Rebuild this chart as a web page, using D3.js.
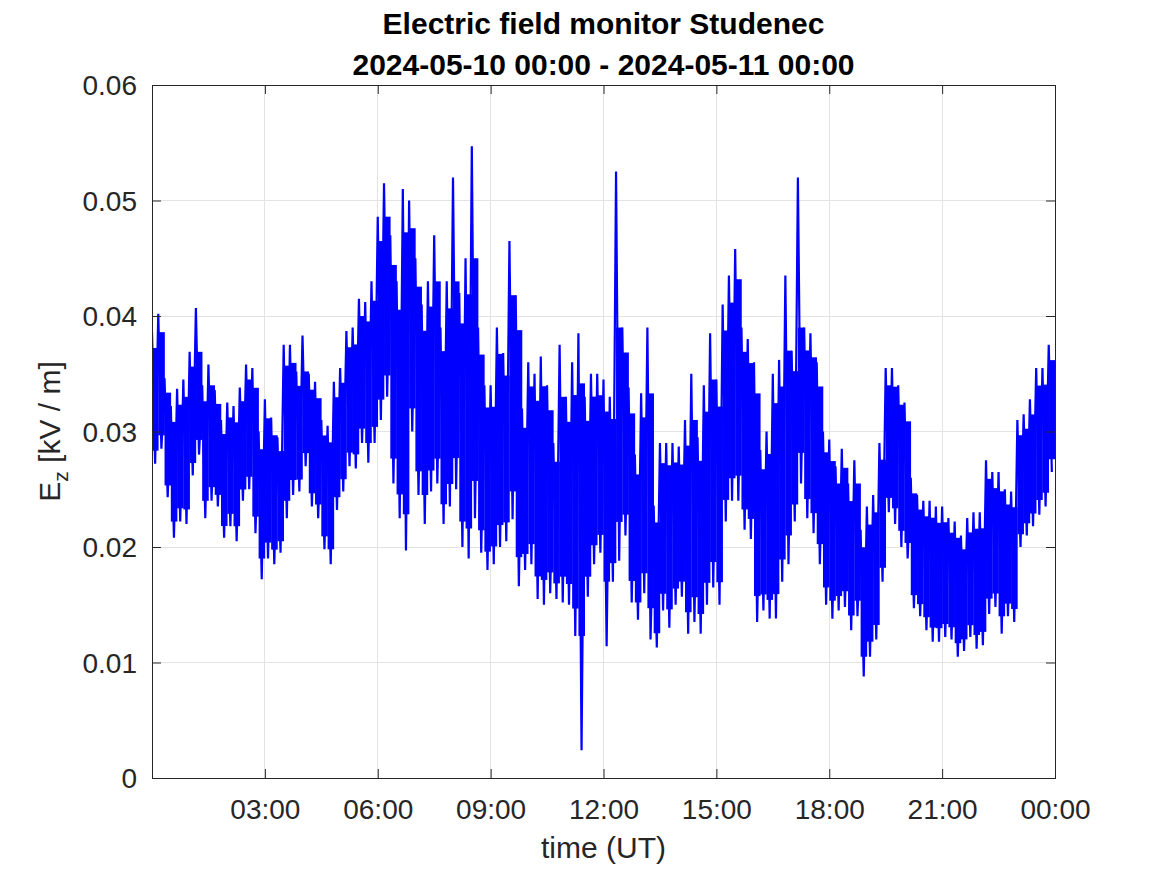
<!DOCTYPE html>
<html>
<head>
<meta charset="utf-8">
<script src="https://cdn.jsdelivr.net/npm/d3@7"></script>
<style>
  html, body { margin: 0; padding: 0; background: #ffffff; }
  svg { display: block; }
  text { font-family: "Liberation Sans", Arial, Helvetica, sans-serif; }
</style>
</head>
<body>
<svg id="chart" width="1167" height="875"></svg>
<script>
// ---- Data: 10-minute envelope (high / low) of Ez [kV/m] ----
const startTime = Date.UTC(2024, 4, 10, 0, 0);
const binMinutes = 10;

const highValues = [
  0.0386, 0.0402, 0.0346, 0.0322, 0.0337, 0.0345, 0.0369, 0.0407, 0.0340, 0.0358, 0.0336, 0.0310, 0.0325, 0.0322, 0.0338, 0.0358, 0.0355, 0.0300,
  0.0328, 0.0312, 0.0295, 0.0375, 0.0375, 0.0352, 0.0383, 0.0350, 0.0343, 0.0310, 0.0305, 0.0343, 0.0355, 0.0387, 0.0390, 0.0415, 0.0412, 0.0430,
  0.0486, 0.0515, 0.0470, 0.0430, 0.0510, 0.0500, 0.0450, 0.0410, 0.0430, 0.0470, 0.0390, 0.0430, 0.0520, 0.0420, 0.0450, 0.0547, 0.0390, 0.0340,
  0.0340, 0.0390, 0.0368, 0.0465, 0.0418, 0.0320, 0.0360, 0.0350, 0.0365, 0.0340, 0.0290, 0.0375, 0.0330, 0.0360, 0.0385, 0.0330, 0.0350, 0.0350,
  0.0345, 0.0330, 0.0525, 0.0390, 0.0338, 0.0280, 0.0333, 0.0390, 0.0236, 0.0290, 0.0290, 0.0290, 0.0287, 0.0310, 0.0350, 0.0295, 0.0340, 0.0385,
  0.0345, 0.0410, 0.0435, 0.0458, 0.0390, 0.0380, 0.0360, 0.0284, 0.0300, 0.0350, 0.0362, 0.0435, 0.0370, 0.0520, 0.0390, 0.0385, 0.0360, 0.0300,
  0.0293, 0.0270, 0.0285, 0.0255, 0.0275, 0.0215, 0.0235, 0.0245, 0.0290, 0.0355, 0.0355, 0.0340, 0.0325, 0.0260, 0.0245, 0.0240, 0.0240, 0.0235,
  0.0235, 0.0225, 0.0222, 0.0210, 0.0225, 0.0230, 0.0230, 0.0275, 0.0265, 0.0265, 0.0250, 0.0248, 0.0310, 0.0315, 0.0328, 0.0355, 0.0355, 0.0375
];

const lowValues = [
  0.0272, 0.0285, 0.0243, 0.0208, 0.0222, 0.0220, 0.0262, 0.0280, 0.0225, 0.0240, 0.0235, 0.0208, 0.0218, 0.0205, 0.0240, 0.0250, 0.0212, 0.0172,
  0.0190, 0.0185, 0.0195, 0.0225, 0.0245, 0.0248, 0.0270, 0.0235, 0.0225, 0.0198, 0.0185, 0.0232, 0.0248, 0.0270, 0.0268, 0.0290, 0.0273, 0.0290,
  0.0310, 0.0330, 0.0255, 0.0225, 0.0197, 0.0300, 0.0245, 0.0220, 0.0248, 0.0255, 0.0220, 0.0235, 0.0250, 0.0200, 0.0190, 0.0225, 0.0195, 0.0180,
  0.0185, 0.0200, 0.0205, 0.0224, 0.0166, 0.0180, 0.0185, 0.0155, 0.0150, 0.0160, 0.0155, 0.0152, 0.0150, 0.0123, 0.0024, 0.0157, 0.0185, 0.0195,
  0.0114, 0.0170, 0.0188, 0.0210, 0.0152, 0.0137, 0.0160, 0.0120, 0.0113, 0.0145, 0.0130, 0.0150, 0.0157, 0.0125, 0.0135, 0.0125, 0.0150, 0.0165,
  0.0150, 0.0222, 0.0240, 0.0240, 0.0215, 0.0207, 0.0135, 0.0145, 0.0138, 0.0138, 0.0170, 0.0185, 0.0222, 0.0255, 0.0225, 0.0212, 0.0185, 0.0150,
  0.0138, 0.0145, 0.0148, 0.0128, 0.0140, 0.0088, 0.0105, 0.0120, 0.0170, 0.0230, 0.0220, 0.0200, 0.0190, 0.0147, 0.0140, 0.0128, 0.0118, 0.0118,
  0.0122, 0.0120, 0.0105, 0.0110, 0.0122, 0.0112, 0.0115, 0.0142, 0.0148, 0.0125, 0.0140, 0.0135, 0.0200, 0.0210, 0.0218, 0.0228, 0.0235, 0.0265
];

const xTickHours = [3, 6, 9, 12, 15, 18, 21, 24];
const xTickLabels = ["03:00", "06:00", "09:00", "12:00", "15:00", "18:00", "21:00", "00:00"];
const yTickValues = [0, 0.01, 0.02, 0.03, 0.04, 0.05, 0.06];
const yTickLabels = ["0", "0.01", "0.02", "0.03", "0.04", "0.05", "0.06"];

const titleLines = ["Electric field monitor Studenec", "2024-05-10 00:00 - 2024-05-11 00:00"];
const xLabel = "time (UT)";

// ---- Layout ----
const plot = { left: 152, right: 1055, top: 85, bottom: 778 };
const axisColor = "#262626";
const gridColor = "#e3e3e3";

const svg = d3.select("#chart");
svg.append("rect").attr("width", 1167).attr("height", 875).attr("fill", "#ffffff");

const x = d3.scaleUtc()
  .domain([new Date(startTime), new Date(startTime + 24 * 3600 * 1000)])
  .range([plot.left, plot.right]);
const y = d3.scaleLinear().domain([0, 0.06]).range([plot.bottom, plot.top]);

const xTicks = xTickHours.map(h => new Date(startTime + h * 3600 * 1000));

// grid
const grid = svg.append("g");
grid.selectAll("line.gx").data(xTicks).join("line")
  .attr("x1", d => x(d)).attr("x2", d => x(d))
  .attr("y1", plot.top).attr("y2", plot.bottom)
  .attr("stroke", gridColor).attr("stroke-width", 1).attr("shape-rendering", "crispEdges");
grid.selectAll("line.gy").data(yTickValues).join("line")
  .attr("x1", plot.left).attr("x2", plot.right)
  .attr("y1", d => y(d)).attr("y2", d => y(d))
  .attr("stroke", gridColor).attr("stroke-width", 1).attr("shape-rendering", "crispEdges");

svg.append("defs").append("clipPath").attr("id", "clip")
  .append("rect").attr("x", plot.left).attr("y", plot.top)
  .attr("width", plot.right - plot.left).attr("height", plot.bottom - plot.top);

// bins
const bins = highValues.map((h, i) => ({
  t: new Date(startTime + i * binMinutes * 60000),
  hi: h, lo: lowValues[i]
}));

// solid core of each bin; isolated extremes are left to the thin zig-zag line
bins.forEach((b, i) => {
  const prev = bins[Math.max(0, i - 1)], next = bins[Math.min(bins.length - 1, i + 1)];
  const range = b.hi - b.lo;
  b.coreHi = Math.min(b.hi - range * 0.12, Math.max(prev.hi, next.hi));
  b.coreLo = Math.max(b.lo + range * 0.1, Math.min(prev.lo, next.lo));
  if (b.coreLo > b.coreHi) { const m = (b.coreLo + b.coreHi) / 2; b.coreLo = m; b.coreHi = m; }
});

const dataG = svg.append("g").attr("clip-path", "url(#clip)");

dataG.selectAll("rect.bin").data(bins).join("rect")
  .attr("x", d => x(d.t))
  .attr("width", d => x(new Date(+d.t + binMinutes * 60000)) - x(d.t) + 0.3)
  .attr("y", d => y(d.coreHi))
  .attr("height", d => y(d.coreLo) - y(d.coreHi))
  .attr("fill", "#0000ff");

// zig-zag line through each bin's high and low
const pts = [];
bins.forEach(b => {
  pts.push({ t: b.t, v: b.hi });
  pts.push({ t: new Date(+b.t + binMinutes * 30000), v: b.lo });
});
dataG.append("path")
  .datum(pts)
  .attr("fill", "none")
  .attr("stroke", "#0000ff")
  .attr("stroke-width", 2.2)
  .attr("stroke-linejoin", "miter")
  .attr("d", d3.line().x(d => x(d.t)).y(d => y(d.v)));

// axes
const tickLen = 9;
const xAxis = d3.axisBottom(x).tickValues(xTicks).tickSizeInner(-tickLen).tickSizeOuter(0)
  .tickPadding(30).tickFormat((d, i) => xTickLabels[i]);
const gx = svg.append("g").attr("transform", `translate(0,${plot.bottom})`).call(xAxis);
gx.select(".domain").remove();
gx.selectAll(".tick line").attr("stroke", axisColor);
gx.selectAll(".tick text").attr("fill", axisColor).attr("font-size", 28)
  .attr("dy", null).attr("y", 41);

const xAxisTop = d3.axisTop(x).tickValues(xTicks).tickSizeInner(-tickLen).tickSizeOuter(0).tickFormat("");
const gxt = svg.append("g").attr("transform", `translate(0,${plot.top})`).call(xAxisTop);
gxt.select(".domain").remove();
gxt.selectAll(".tick line").attr("stroke", axisColor);

const yAxis = d3.axisLeft(y).tickValues(yTickValues).tickSizeInner(-tickLen).tickSizeOuter(0)
  .tickPadding(15).tickFormat((d, i) => yTickLabels[i]);
const gy = svg.append("g").attr("transform", `translate(${plot.left},0)`).call(yAxis);
gy.select(".domain").remove();
gy.selectAll(".tick line").attr("stroke", axisColor);
gy.selectAll(".tick text").attr("fill", axisColor).attr("font-size", 28)
  .attr("x", -15).attr("dy", "0.35em");

const yAxisRight = d3.axisRight(y).tickValues(yTickValues).tickSizeInner(-tickLen).tickSizeOuter(0).tickFormat("");
const gyr = svg.append("g").attr("transform", `translate(${plot.right},0)`).call(yAxisRight);
gyr.select(".domain").remove();
gyr.selectAll(".tick line").attr("stroke", axisColor);

// box
svg.append("rect")
  .attr("x", plot.left + 0.5).attr("y", plot.top + 0.5)
  .attr("width", plot.right - plot.left).attr("height", plot.bottom - plot.top)
  .attr("fill", "none").attr("stroke", axisColor).attr("stroke-width", 1);

// title
const title = svg.append("text")
  .attr("text-anchor", "middle").attr("font-size", 30).attr("font-weight", "bold").attr("fill", "#000");
title.append("tspan").attr("x", (plot.left + plot.right) / 2).attr("y", 34).text(titleLines[0]);
title.append("tspan").attr("x", (plot.left + plot.right) / 2).attr("y", 75).text(titleLines[1]);

// x label
svg.append("text")
  .attr("x", (plot.left + plot.right) / 2).attr("y", 858)
  .attr("text-anchor", "middle").attr("font-size", 30).attr("fill", axisColor)
  .text(xLabel);

// y label
const yl = svg.append("text")
  .attr("transform", `translate(60, ${(plot.top + plot.bottom) / 2}) rotate(-90)`)
  .attr("text-anchor", "middle").attr("font-size", 30).attr("fill", axisColor);
yl.append("tspan").text("E");
yl.append("tspan").attr("font-size", 21).attr("dy", 8).text("z");
yl.append("tspan").attr("dy", -8).text(" [kV / m]");
</script>
</body>
</html>
